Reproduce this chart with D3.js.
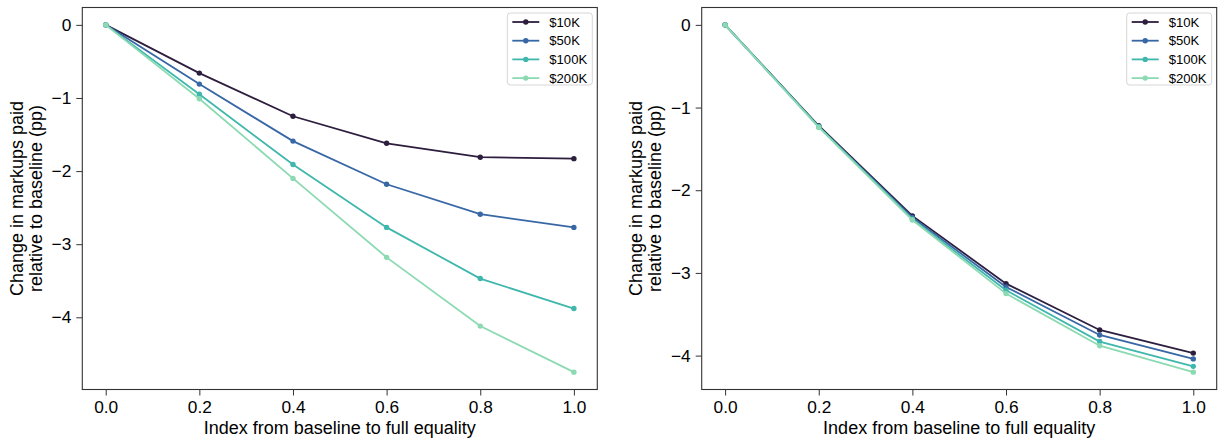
<!DOCTYPE html>
<html><head><meta charset="utf-8">
<script src="https://cdn.jsdelivr.net/npm/d3@7"></script>
<style>
body{margin:0;background:#fff;}
svg text{font-family:"Liberation Sans",Arial,sans-serif;fill:#000;}
</style></head>
<body><svg id="c" width="1225" height="445"></svg>
<script>
const xValues = [0.0, 0.2, 0.4, 0.6, 0.8, 1.0];
const seriesNames = ["$10K", "$50K", "$100K", "$200K"];
const seriesColors = ["#2d1e3e", "#3867a5", "#40b7ad", "#8bdab2"];
// Left panel
const left10K  = [0, -0.66, -1.25, -1.62, -1.81, -1.83];
const left50K  = [0, -0.81, -1.59, -2.18, -2.59, -2.77];
const left100K = [0, -0.95, -1.91, -2.77, -3.47, -3.88];
const left200K = [0, -1.01, -2.10, -3.18, -4.12, -4.75];
// Right panel
const right10K  = [0, -1.22, -2.31, -3.13, -3.69, -3.97];
const right50K  = [0, -1.23, -2.33, -3.17, -3.75, -4.04];
const right100K = [0, -1.23, -2.35, -3.21, -3.83, -4.13];
const right200K = [0, -1.24, -2.36, -3.25, -3.88, -4.20];
const xTicks = [0.0, 0.2, 0.4, 0.6, 0.8, 1.0];
const leftYTicks = [0, -1, -2, -3, -4];
const rightYTicks = [0, -1, -2, -3, -4];
const xLabel = "Index from baseline to full equality";
const yLabelLines = ["Change in markups paid", "relative to baseline (pp)"];

const svg = d3.select("#c");

function panel(x0, x1, y0, y1, data, yTicks, labelX) {
  const all = data.flat();
  const mn = d3.min(all), mx = d3.max(all);
  const pad = (mx - mn) * 0.05;
  const x = d3.scaleLinear().domain([-0.05, 1.05]).range([x0, x1]);
  const y = d3.scaleLinear().domain([mn - pad, mx + pad]).range([y1, y0]);
  const g = svg.append("g");
  const fmtMinus = d => d === 0 ? "0" : "\u2212" + Math.abs(d);
  const xa = g.append("g").attr("transform", `translate(0,${y1})`)
    .call(d3.axisBottom(x).tickValues(xTicks).tickFormat(d3.format(".1f")).tickSize(6).tickPadding(5).tickSizeOuter(0));
  const ya = g.append("g").attr("transform", `translate(${x0},0)`)
    .call(d3.axisLeft(y).tickValues(yTicks).tickFormat(fmtMinus).tickSize(6).tickPadding(5).tickSizeOuter(0));
  [xa, ya].forEach(a => {
    a.select(".domain").remove();
    a.selectAll(".tick line").attr("stroke", "#333").attr("stroke-width", 1);
    a.selectAll(".tick text").attr("font-size", 17.3).attr("fill", "#000").style("font-family", "Liberation Sans, Arial, sans-serif");
  });
  g.append("rect").attr("x", x0).attr("y", y0).attr("width", x1 - x0).attr("height", y1 - y0)
    .attr("fill", "none").attr("stroke", "#333").attr("stroke-width", 1.1);
  const line = d3.line().x((d, i) => x(xValues[i])).y(d => y(d));
  data.forEach((s, k) => {
    g.append("path").datum(s).attr("d", line).attr("fill", "none")
      .attr("stroke", seriesColors[k]).attr("stroke-width", 1.8);
    g.selectAll(null).data(s).enter().append("circle")
      .attr("cx", (d, i) => x(xValues[i])).attr("cy", d => y(d)).attr("r", 2.7)
      .attr("fill", seriesColors[k]);
  });
  g.append("text").attr("x", (x0 + x1) / 2).attr("y", 434).attr("text-anchor", "middle")
    .attr("font-size", 18).text(xLabel);
  const yl = g.append("text").attr("transform", `translate(${labelX},${(y0 + y1) / 2}) rotate(-90)`)
    .attr("text-anchor", "middle").attr("font-size", 18);
  yl.append("tspan").attr("x", 0).attr("dy", 0).text(yLabelLines[0]);
  yl.append("tspan").attr("x", 0).attr("dy", 19.5).text(yLabelLines[1]);
  // legend
  const lw = 85, lh = 72;
  const lx = x1 - lw - 5, ly = y0 + 5.5;
  const lg = g.append("g");
  lg.append("rect").attr("x", lx).attr("y", ly).attr("width", lw).attr("height", lh).attr("rx", 3)
    .attr("fill", "#fff").attr("fill-opacity", 0.8).attr("stroke", "#d6d6d6");
  seriesNames.forEach((n, k) => {
    const yy = ly + 9 + k * 18.7;
    lg.append("line").attr("x1", lx + 5).attr("x2", lx + 32).attr("y1", yy).attr("y2", yy)
      .attr("stroke", seriesColors[k]).attr("stroke-width", 1.8);
    lg.append("circle").attr("cx", lx + 18.5).attr("cy", yy).attr("r", 2.7).attr("fill", seriesColors[k]);
    lg.append("text").attr("x", lx + 42).attr("y", yy + 4.7).attr("font-size", 13.1).text(n);
  });
}

panel(82.3, 597.3, 7.5, 389.5, [left10K, left50K, left100K, left200K], leftYTicks, 22.5);
panel(701.7, 1216.7, 7.5, 389.5, [right10K, right50K, right100K, right200K], rightYTicks, 641.5);
</script></body></html>
